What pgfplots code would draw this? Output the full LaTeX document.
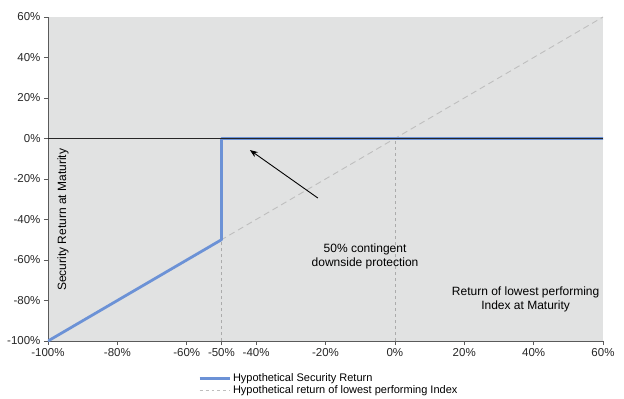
\documentclass[border=0pt]{standalone}
\usepackage{pgfplots}
\pgfplotsset{compat=1.18}
\usepackage{fontspec}
\setmainfont{Liberation Sans}
\usetikzlibrary{arrows.meta}
\definecolor{bgc}{RGB}{225,226,226}
\definecolor{sblue}{RGB}{108,146,214}
\definecolor{dgray}{RGB}{190,190,190}
\definecolor{axc}{RGB}{90,90,90}
\begin{document}
\begin{tikzpicture}[font=\fontsize{12bp}{14bp}\selectfont]
\useasboundingbox (-48bp,-58bp) rectangle (576bp,341bp);
\begin{axis}[
  scale only axis, width=555bp, height=324bp,
  at={(0,0)}, anchor=south west,
  xmin=-100, xmax=60, ymin=-100, ymax=60,
  axis background/.style={fill=bgc},
  axis x line*=bottom, axis y line*=left,
  axis line style={draw=axc, line width=0.9pt},
  tick align=outside, major tick length=4bp,
  tick style={draw=axc, line width=0.7pt},
  xtick={-100,-80,-60,-50,-40,-20,0,20,40,60},
  xticklabels={-100\%,-80\%,-60\%,-50\%,-40\%,-20\%,0\%,20\%,40\%,60\%},
  ytick={-100,-80,-60,-40,-20,0,20,40,60},
  yticklabels={-100\%,-80\%,-60\%,-40\%,-20\%,0\%,20\%,40\%,60\%},
  tick label style={font=\fontsize{11.5bp}{13bp}\selectfont, text=black!85},
  legend style={at={(axis description cs:0.27,-0.093)}, anchor=north west,
    draw=none, fill=none, font=\fontsize{11bp}{12bp}\selectfont,
    row sep=-1.5bp, inner sep=0pt},
  legend cell align=left,
  legend image code/.code={\draw[#1] (0bp,0bp) -- (30bp,0bp);},
]
\addlegendimage{sblue, line width=3pt}
\addlegendentry{Hypothetical Security Return}
\addlegendimage{dgray, dashed, line width=0.8pt}
\addlegendentry{Hypothetical return of lowest performing Index}

% vertical guide lines
\addplot[forget plot, dgray!90!black, dashed, line width=0.5pt] coordinates {(-50,-100) (-50,-50)};
\addplot[forget plot, dgray!90!black, dashed, line width=0.5pt] coordinates {(0,-100) (0,0)};
% index line
\addplot[forget plot, dgray, dashed, dash pattern=on 6bp off 4bp, line width=0.9pt] coordinates {(-100,-100) (60,60)};
% security return
\addplot[forget plot, sblue, line width=2.8pt, line join=round] coordinates {(-100,-100) (-50,-50) (-50,0) (60,0)};
% zero line
\addplot[forget plot, black!85, line width=0.6pt] coordinates {(-100,0) (60,0)};

\draw[-{Stealth[length=8bp,width=6bp]}, line width=0.9pt] (axis cs:-22.2,-29.4) -- (axis cs:-41.8,-5.7);
\node[align=center] at (axis cs:-8.6,-58) {50\% contingent\\downside protection};
\node[align=center] at (axis cs:37.7,-79.7) {Return of lowest performing\\Index at Maturity};
\node[rotate=90] at (axis cs:-95.7,-40.2) {Security Return at Maturity};
\end{axis}
\end{tikzpicture}
\end{document}
